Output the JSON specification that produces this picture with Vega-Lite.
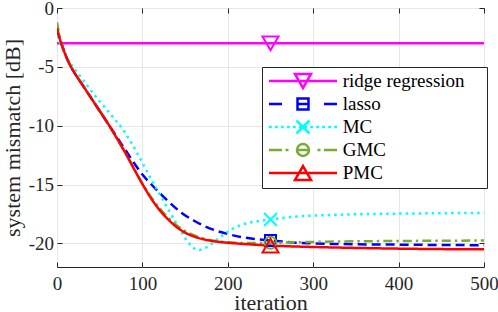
{
  "$schema": "https://vega.github.io/schema/vega-lite/v6.json",
  "width": 427,
  "height": 259,
  "autosize": {"type": "none"},
  "padding": {"left": 57, "top": 8, "right": 14, "bottom": 45},
  "background": "white",
  "config": {
    "view": {"stroke": "#262626", "strokeWidth": 1},
    "axis": {
      "labelFont": "Liberation Serif, DejaVu Serif, serif",
      "labelFontSize": 19,
      "labelColor": "#262626",
      "labelFlush": false,
      "titleFont": "Liberation Serif, DejaVu Serif, serif",
      "titleFontSize": 22,
      "titleFontWeight": "normal",
      "titleColor": "#262626",
      "tickColor": "#262626",
      "tickWidth": 1,
      "tickSize": -5,
      "domain": false,
      "gridColor": "#e6e6e6",
      "gridWidth": 1
    },
    "legend": {
      "labelFont": "Liberation Serif, DejaVu Serif, serif"
    }
  },
  "datasets": {
    "curves": [
      {"series": "ridge regression", "x": 0, "y": -3},
      {"series": "ridge regression", "x": 250, "y": -3},
      {"series": "ridge regression", "x": 500, "y": -3},

      {"series": "lasso", "x": 0, "y": -1.8},
      {"series": "lasso", "x": 2, "y": -2.35},
      {"series": "lasso", "x": 5, "y": -3.0},
      {"series": "lasso", "x": 10, "y": -4.0},
      {"series": "lasso", "x": 16, "y": -4.95},
      {"series": "lasso", "x": 20, "y": -5.45},
      {"series": "lasso", "x": 30, "y": -6.55},
      {"series": "lasso", "x": 40, "y": -7.65},
      {"series": "lasso", "x": 50, "y": -8.75},
      {"series": "lasso", "x": 60, "y": -9.85},
      {"series": "lasso", "x": 70, "y": -10.95},
      {"series": "lasso", "x": 80, "y": -12.05},
      {"series": "lasso", "x": 90, "y": -13.15},
      {"series": "lasso", "x": 100, "y": -14.15},
      {"series": "lasso", "x": 110, "y": -14.95},
      {"series": "lasso", "x": 120, "y": -15.7},
      {"series": "lasso", "x": 130, "y": -16.4},
      {"series": "lasso", "x": 145, "y": -17.35},
      {"series": "lasso", "x": 160, "y": -18.05},
      {"series": "lasso", "x": 172, "y": -18.5},
      {"series": "lasso", "x": 185, "y": -18.88},
      {"series": "lasso", "x": 200, "y": -19.2},
      {"series": "lasso", "x": 215, "y": -19.45},
      {"series": "lasso", "x": 233, "y": -19.63},
      {"series": "lasso", "x": 250, "y": -19.75},
      {"series": "lasso", "x": 280, "y": -19.93},
      {"series": "lasso", "x": 300, "y": -20.0},
      {"series": "lasso", "x": 350, "y": -20.07},
      {"series": "lasso", "x": 400, "y": -20.1},
      {"series": "lasso", "x": 450, "y": -20.13},
      {"series": "lasso", "x": 500, "y": -20.15},

      {"series": "MC", "x": 0, "y": -2.3},
      {"series": "MC", "x": 3, "y": -2.85},
      {"series": "MC", "x": 8, "y": -3.65},
      {"series": "MC", "x": 15, "y": -4.6},
      {"series": "MC", "x": 26, "y": -5.7},
      {"series": "MC", "x": 35, "y": -6.55},
      {"series": "MC", "x": 44, "y": -7.4},
      {"series": "MC", "x": 55, "y": -8.35},
      {"series": "MC", "x": 67, "y": -9.4},
      {"series": "MC", "x": 77, "y": -10.3},
      {"series": "MC", "x": 85, "y": -11.2},
      {"series": "MC", "x": 93, "y": -12.2},
      {"series": "MC", "x": 100, "y": -13.15},
      {"series": "MC", "x": 108, "y": -14.25},
      {"series": "MC", "x": 117, "y": -15.4},
      {"series": "MC", "x": 126, "y": -16.55},
      {"series": "MC", "x": 133, "y": -17.45},
      {"series": "MC", "x": 141, "y": -18.45},
      {"series": "MC", "x": 148, "y": -19.3},
      {"series": "MC", "x": 153, "y": -19.85},
      {"series": "MC", "x": 158, "y": -20.25},
      {"series": "MC", "x": 165, "y": -20.55},
      {"series": "MC", "x": 172, "y": -20.45},
      {"series": "MC", "x": 178, "y": -20.2},
      {"series": "MC", "x": 188, "y": -19.65},
      {"series": "MC", "x": 198, "y": -19.1},
      {"series": "MC", "x": 205, "y": -18.78},
      {"series": "MC", "x": 213, "y": -18.5},
      {"series": "MC", "x": 225, "y": -18.25},
      {"series": "MC", "x": 250, "y": -17.97},
      {"series": "MC", "x": 280, "y": -17.72},
      {"series": "MC", "x": 320, "y": -17.58},
      {"series": "MC", "x": 365, "y": -17.5},
      {"series": "MC", "x": 420, "y": -17.45},
      {"series": "MC", "x": 500, "y": -17.4},

      {"series": "GMC", "x": 0, "y": -1.2},
      {"series": "GMC", "x": 2, "y": -2.0},
      {"series": "GMC", "x": 5, "y": -2.9},
      {"series": "GMC", "x": 10, "y": -3.95},
      {"series": "GMC", "x": 16, "y": -4.95},
      {"series": "GMC", "x": 20, "y": -5.45},
      {"series": "GMC", "x": 30, "y": -6.55},
      {"series": "GMC", "x": 40, "y": -7.65},
      {"series": "GMC", "x": 50, "y": -8.75},
      {"series": "GMC", "x": 60, "y": -9.85},
      {"series": "GMC", "x": 70, "y": -11.05},
      {"series": "GMC", "x": 80, "y": -12.3},
      {"series": "GMC", "x": 90, "y": -13.6},
      {"series": "GMC", "x": 100, "y": -14.9},
      {"series": "GMC", "x": 110, "y": -16.05},
      {"series": "GMC", "x": 120, "y": -17.0},
      {"series": "GMC", "x": 130, "y": -17.8},
      {"series": "GMC", "x": 140, "y": -18.45},
      {"series": "GMC", "x": 150, "y": -18.95},
      {"series": "GMC", "x": 160, "y": -19.3},
      {"series": "GMC", "x": 170, "y": -19.55},
      {"series": "GMC", "x": 180, "y": -19.72},
      {"series": "GMC", "x": 190, "y": -19.83},
      {"series": "GMC", "x": 200, "y": -19.9},
      {"series": "GMC", "x": 220, "y": -19.96},
      {"series": "GMC", "x": 250, "y": -19.95},
      {"series": "GMC", "x": 300, "y": -19.87},
      {"series": "GMC", "x": 350, "y": -19.82},
      {"series": "GMC", "x": 400, "y": -19.79},
      {"series": "GMC", "x": 450, "y": -19.77},
      {"series": "GMC", "x": 500, "y": -19.75},

      {"series": "PMC", "x": 0, "y": -1.7},
      {"series": "PMC", "x": 2, "y": -2.3},
      {"series": "PMC", "x": 5, "y": -3.0},
      {"series": "PMC", "x": 10, "y": -4.0},
      {"series": "PMC", "x": 16, "y": -4.95},
      {"series": "PMC", "x": 20, "y": -5.45},
      {"series": "PMC", "x": 30, "y": -6.55},
      {"series": "PMC", "x": 40, "y": -7.65},
      {"series": "PMC", "x": 50, "y": -8.75},
      {"series": "PMC", "x": 60, "y": -9.85},
      {"series": "PMC", "x": 70, "y": -11.05},
      {"series": "PMC", "x": 80, "y": -12.3},
      {"series": "PMC", "x": 90, "y": -13.65},
      {"series": "PMC", "x": 100, "y": -14.95},
      {"series": "PMC", "x": 110, "y": -16.15},
      {"series": "PMC", "x": 120, "y": -17.15},
      {"series": "PMC", "x": 130, "y": -17.95},
      {"series": "PMC", "x": 140, "y": -18.6},
      {"series": "PMC", "x": 150, "y": -19.08},
      {"series": "PMC", "x": 160, "y": -19.4},
      {"series": "PMC", "x": 170, "y": -19.62},
      {"series": "PMC", "x": 180, "y": -19.77},
      {"series": "PMC", "x": 190, "y": -19.87},
      {"series": "PMC", "x": 200, "y": -19.94},
      {"series": "PMC", "x": 220, "y": -20.05},
      {"series": "PMC", "x": 250, "y": -20.18},
      {"series": "PMC", "x": 300, "y": -20.3},
      {"series": "PMC", "x": 350, "y": -20.38},
      {"series": "PMC", "x": 400, "y": -20.44},
      {"series": "PMC", "x": 450, "y": -20.48},
      {"series": "PMC", "x": 500, "y": -20.5}
    ]
  },
  "layer": [
    {
      "data": {"name": "curves"},
      "mark": {"type": "line", "strokeWidth": 2.5, "interpolate": "monotone", "clip": true},
      "encoding": {
        "x": {
          "field": "x", "type": "quantitative",
          "scale": {"domain": [0, 500], "nice": false},
          "axis": {"values": [0, 100, 200, 300, 400, 500], "grid": true, "labelPadding": 12, "title": "iteration", "titlePadding": -1}
        },
        "y": {
          "field": "y", "type": "quantitative",
          "scale": {"domain": [-22, 0], "nice": false, "zero": false},
          "axis": {"values": [-20, -15, -10, -5, 0], "grid": true, "labelPadding": 8.5, "labelExpr": "'' + datum.value", "title": "system mismatch [dB]", "titlePadding": 4}
        },
        "color": {
          "field": "series", "type": "nominal",
          "scale": {"domain": ["ridge regression", "lasso", "MC", "GMC", "PMC"], "range": ["#ff00ff", "#0000ff", "#00ffff", "#77ac30", "#ff0000"]},
          "legend": {
            "title": null, "orient": "none", "legendX": 205, "legendY": 59,
            "strokeColor": "#262626", "fillColor": "white", "padding": 3, "cornerRadius": 0,
            "labelFontSize": 19, "labelColor": "black",
            "symbolSize": 351, "symbolStrokeWidth": 2.5, "symbolOffset": 27, "labelOffset": 28.7, "rowPadding": 0,
            "encode": {"symbols": {"update": {"size": {"value": 351}, "shape": {"signal": "datum.value === 'ridge regression' ? 'M-3.63,0H3.63M-0.853,-0.736H0.853L0,0.736ZM18.78,0' : datum.value === 'lasso' ? 'M-3.63,0H-2.24M2.24,0H3.63M-0.587,-0.587H0.587V0.587H-0.587ZM-0.587,0H0.587M18.78,0' : datum.value === 'MC' ? 'M-3.63,0H-3.33M-2.99,0H-2.69M-2.35,0H-2.05M-1.71,0H-1.41M-1.07,0H-0.77M-0.43,0H-0.13M0.13,0H0.43M0.77,0H1.07M1.41,0H1.71M2.05,0H2.35M2.69,0H2.99M3.33,0H3.63M-0.694,-0.694L0.694,0.694M-0.694,0.694L0.694,-0.694M18.78,0' : datum.value === 'GMC' ? 'M-3.63,0H-2.24M-1.867,0H-1.547M-0.64,0H0.64M1.547,0H1.867M2.24,0H3.63M-0.64,0A0.64,0.64 0 1,0 0.64,0A0.64,0.64 0 1,0 -0.64,0M18.78,0' : 'M-3.63,0H3.63M0,-0.736L0.853,0.736H-0.853ZM18.78,0'"}}}}
          }
        },
        "strokeDash": {
          "field": "series", "type": "nominal",
          "scale": {"domain": ["PMC", "GMC", "MC", "lasso", "ridge regression"], "range": [[1, 0], [9, 4, 2.5, 4], [2.5, 4], [9, 5], [1, 0]]},
          "legend": null
        }
      }
    },
    {
      "data": {"name": "curves"},
      "transform": [{"filter": "datum.x == 250"}],
      "mark": {"type": "point", "filled": false, "strokeWidth": 2, "opacity": 1},
      "encoding": {
        "x": {
          "field": "x", "type": "quantitative",
          "scale": {"domain": [0, 500], "nice": false},
          "axis": {"orient": "top", "values": [0, 100, 200, 300, 400, 500], "labels": false, "title": null, "grid": false}
        },
        "y": {
          "field": "y", "type": "quantitative",
          "scale": {"domain": [-22, 0], "nice": false, "zero": false},
          "axis": {"orient": "right", "values": [-20, -15, -10, -5, 0], "labels": false, "title": null, "grid": false}
        },
        "color": {
          "field": "series", "type": "nominal",
          "scale": {"domain": ["ridge regression", "lasso", "MC", "GMC", "PMC"], "range": ["#ff00ff", "#0000ff", "#00ffff", "#77ac30", "#ff0000"]},
          "legend": {
            "title": null, "orient": "none", "legendX": 205, "legendY": 59,
            "strokeColor": "#262626", "fillColor": "white", "padding": 3, "cornerRadius": 0,
            "labelFontSize": 19, "labelColor": "black",
            "symbolSize": 351, "symbolStrokeWidth": 2.5, "symbolOffset": 27, "labelOffset": 28.7, "rowPadding": 0,
            "encode": {"symbols": {"update": {"size": {"value": 351}, "shape": {"signal": "datum.value === 'ridge regression' ? 'M-3.63,0H3.63M-0.853,-0.736H0.853L0,0.736ZM18.78,0' : datum.value === 'lasso' ? 'M-3.63,0H-2.24M2.24,0H3.63M-0.587,-0.587H0.587V0.587H-0.587ZM-0.587,0H0.587M18.78,0' : datum.value === 'MC' ? 'M-3.63,0H-3.33M-2.99,0H-2.69M-2.35,0H-2.05M-1.71,0H-1.41M-1.07,0H-0.77M-0.43,0H-0.13M0.13,0H0.43M0.77,0H1.07M1.41,0H1.71M2.05,0H2.35M2.69,0H2.99M3.33,0H3.63M-0.694,-0.694L0.694,0.694M-0.694,0.694L0.694,-0.694M18.78,0' : datum.value === 'GMC' ? 'M-3.63,0H-2.24M-1.867,0H-1.547M-0.64,0H0.64M1.547,0H1.867M2.24,0H3.63M-0.64,0A0.64,0.64 0 1,0 0.64,0A0.64,0.64 0 1,0 -0.64,0M18.78,0' : 'M-3.63,0H3.63M0,-0.736L0.853,0.736H-0.853ZM18.78,0'"}}}}
          }
        },
        "shape": {
          "field": "series", "type": "nominal",
          "scale": {"domain": ["GMC", "PMC", "ridge regression", "lasso", "MC"], "range": ["circle", "triangle-up", "triangle-down", "square", "M-1,-1L1,1M-1,1L1,-1"]},
          "legend": null
        },
        "size": {
          "field": "series", "type": "nominal",
          "scale": {"type": "ordinal", "domain": ["MC", "GMC", "PMC", "ridge regression", "lasso"], "range": [169, 144, 256, 256, 121]},
          "legend": null
        }
      }
    }
  ],
  "resolve": {"axis": {"x": "independent", "y": "independent"}}
}
